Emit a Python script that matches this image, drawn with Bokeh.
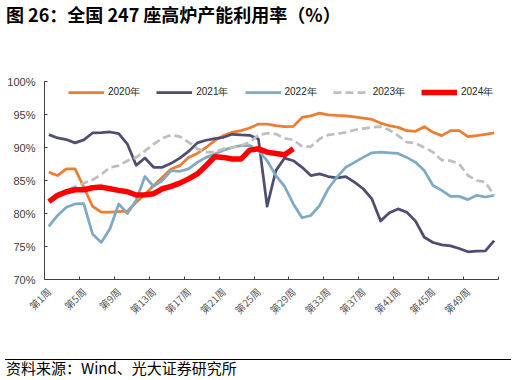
from math import pi
from bokeh.plotting import figure
from bokeh.models import (FixedTicker, Legend, LegendItem, Div, PrintfTickFormatter, Range1d)
from bokeh.layouts import column
from bokeh.embed import file_html
from bokeh.resources import INLINE

weeks = list(range(1, 53))
tick_weeks = list(range(1, 50, 4))
tick_labels = [f"第{w}周" for w in tick_weeks]
y_ticks = [70, 75, 80, 85, 90, 95, 100]

series_names = ["2020年", "2021年", "2022年", "2023年", "2024年"]

y2020 = [86.25, 85.75, 86.75, 86.75, 84.0, 81.1, 80.2, 80.2, 80.3, 80.35,
         81.7, 82.9, 84.25, 85.5, 86.75, 87.25, 88.5, 89.1, 90.0, 91.05,
         91.8, 92.3, 92.55, 92.95, 93.55, 93.55, 93.3, 93.15, 93.2, 94.55,
         94.8, 95.2, 94.95, 94.85, 94.8, 94.65, 94.45, 94.25, 93.7, 93.3,
         93.05, 92.55, 92.45, 93.15, 92.3, 91.8, 92.55, 92.55, 91.65, 91.8,
         92.0, 92.2]

y2021 = [91.95, 91.45, 91.2, 90.7, 91.15, 92.2, 92.25, 92.35, 92.1, 90.5,
         87.3, 88.4, 87.0, 87.0, 87.6, 88.4, 89.4, 90.7, 91.1, 91.35,
         91.55, 92.0, 91.9, 91.85, 91.3, 81.1, 86.5, 88.4, 88.0, 87.0,
         85.75, 86.0, 85.6, 85.4, 85.6, 84.75, 83.75, 82.2, 78.85, 80.1,
         80.7, 80.2, 78.85, 76.4, 75.6, 75.25, 75.1, 74.7, 74.2, 74.3,
         74.35, 75.9]

y2022 = [78.05, 79.7, 80.95, 81.45, 81.5, 76.9, 75.6, 77.7, 81.45, 80.0,
         82.0, 85.6, 84.1, 85.0, 86.5, 86.4, 86.75, 87.75, 88.5, 89.0,
         89.6, 90.0, 90.3, 90.3, 89.5, 88.0, 85.75, 84.1, 81.45, 79.35,
         79.7, 81.2, 83.75, 85.5, 87.0, 87.75, 88.5, 89.2, 89.3, 89.2,
         89.1, 88.5, 87.75, 86.5, 84.25, 83.5, 82.6, 82.6, 82.1, 82.75,
         82.5, 82.75]

y2023 = [81.8, 82.7, 83.5, 84.1, 84.6, 85.1, 85.9, 87.0, 87.25, 88.0,
         88.5, 89.5, 90.5, 91.4, 91.9, 91.65, 90.8, 89.8, 89.3, 89.3,
         89.8, 90.0, 90.3, 90.8, 91.9, 92.15, 92.05, 91.4, 91.15, 90.15,
         90.15, 91.3, 91.9, 92.05, 92.3, 92.65, 92.85, 93.05, 93.15, 92.65,
         91.8, 90.8, 90.65, 90.0, 89.3, 88.1, 88.0, 87.5, 85.75, 85.0,
         84.75, 82.75]

y2024 = [81.8, 82.75, 83.3, 83.6, 83.6, 83.9, 84.0, 83.75, 83.5, 83.3,
         82.8, 82.85, 83.0, 83.75, 84.1, 84.6, 85.25, 86.0, 87.25, 88.6,
         88.5, 88.25, 88.25, 89.6, 89.8, 89.3, 89.1, 88.9, 89.8]

p = figure(width=516, height=326, output_backend="svg", toolbar_location=None,
           x_range=Range1d(0.5, 52.5), y_range=Range1d(70, 100),
           min_border_left=44, min_border_right=18, min_border_top=51, min_border_bottom=77)
p.outline_line_color = None
p.xgrid.visible = False
p.ygrid.visible = False
p.background_fill_color = "white"

styles = [
    dict(color="#ED7D31", width=2.75, dash="solid"),
    dict(color="#4E4D72", width=2.75, dash="solid"),
    dict(color="#7FAAC3", width=2.75, dash="solid"),
    dict(color="#BFBFBF", width=2.75, dash="8 4"),
    dict(color="#FF0000", width=5.5, dash="solid"),
]
data = [y2020, y2021, y2022, y2023, y2024]
items = []
for name, ys, st in zip(series_names, data, styles):
    r = p.line(weeks[:len(ys)], ys, line_color=st["color"], line_width=st["width"],
               line_dash=st["dash"], line_join="round")
    items.append(LegendItem(label=name, renderers=[r]))

legend = Legend(items=items, orientation="horizontal", location=(24, 177),
                glyph_width=36, glyph_height=20, label_standoff=4, spacing=16,
                padding=0, margin=0, border_line_color=None, background_fill_alpha=0,
                label_text_font="Liberation Sans", label_text_font_size="10px",
                label_text_color="#262626")
p.add_layout(legend)

xa = p.xaxis[0]
xa.ticker = FixedTicker(ticks=tick_weeks, minor_ticks=[w - 0.5 for w in range(1, 54, 4)])
xa.major_label_overrides = {w: lab for w, lab in zip(tick_weeks, tick_labels)}
xa.major_label_orientation = pi / 4
xa.major_tick_line_color = None
xa.minor_tick_in = 3
xa.minor_tick_out = 0
xa.minor_tick_line_color = "#404040"
xa.axis_line_color = "#404040"
xa.major_label_text_font = "Noto Sans CJK SC"
xa.major_label_text_font_size = "10px"
xa.major_label_text_color = "#595959"
xa.major_label_standoff = 4

ya = p.yaxis[0]
ya.ticker = FixedTicker(ticks=y_ticks)
ya.formatter = PrintfTickFormatter(format="%d%%")
ya.major_tick_in = 3
ya.major_tick_out = 0
ya.minor_tick_line_color = None
ya.major_tick_line_color = "#404040"
ya.axis_line_color = "#404040"
ya.major_label_text_font = "Liberation Sans"
ya.major_label_text_font_size = "11px"
ya.major_label_text_color = "#404040"
ya.major_label_standoff = 9

title_div = Div(text='<div style="padding-top:2px;padding-left:6px;white-space:nowrap;'
                     'font-family:\'Noto Sans CJK SC\';font-weight:bold;font-size:18px;color:#000;">'
                     '图 26：全国 247 座高炉产能利用率（%）</div>',
                width=516, height=30, margin=(0, 0, 0, 0))
footer_div = Div(text='<div style="margin-top:3px;margin-left:5px;width:506px;border-top:1px solid #000;'
                      'white-space:nowrap;font-family:\'Noto Sans CJK SC\';font-size:15px;line-height:16px;'
                      'padding-left:1px;color:#000;">资料来源：Wind、光大证券研究所</div>',
                 width=516, height=24, margin=(0, 0, 0, 0))

layout = column(title_div, p, footer_div, spacing=0)
open("out.html", "w").write(file_html(layout, INLINE))
